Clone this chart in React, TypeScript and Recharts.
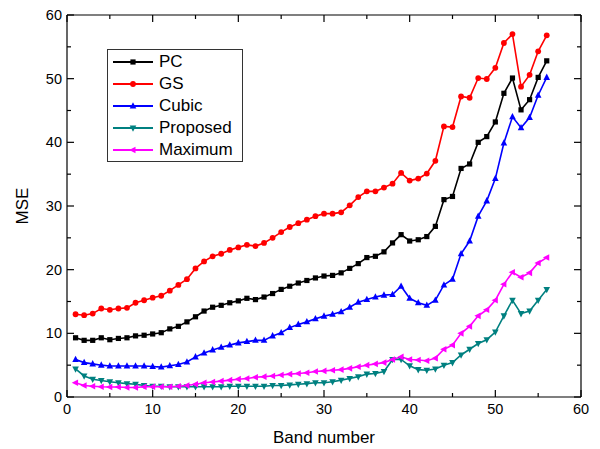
import React from 'react';
import { LineChart, Line, XAxis, YAxis } from 'recharts';

// band index 1..56
const bands = [
  1, 2, 3, 4, 5, 6, 7, 8, 9, 10, 11, 12, 13, 14, 15, 16, 17, 18, 19, 20,
  21, 22, 23, 24, 25, 26, 27, 28, 29, 30, 31, 32, 33, 34, 35, 36, 37, 38, 39, 40,
  41, 42, 43, 44, 45, 46, 47, 48, 49, 50, 51, 52, 53, 54, 55, 56,
];

const pcValues = [
  9.3, 8.9, 8.9, 9.3, 9.0, 9.2, 9.3, 9.6, 9.7, 9.9, 10.1, 10.7, 11.1, 11.8, 12.6, 13.5, 14.1, 14.4, 14.8, 15.1,
  15.5, 15.3, 15.7, 16.25, 16.9, 17.4, 17.9, 18.3, 18.7, 19.0, 19.1, 19.5, 20.2, 20.95, 21.9, 22.1, 22.8, 24.2, 25.5, 24.5,
  24.7, 25.2, 26.8, 31.0, 31.5, 35.9, 36.6, 40.0, 40.9, 43.2, 47.7, 50.1, 45.1, 46.7, 50.2, 52.8,
];

const gsValues = [
  13.0, 12.85, 13.1, 13.9, 13.7, 13.9, 14.0, 14.8, 15.2, 15.6, 15.9, 16.7, 17.6, 18.5, 20.2, 21.3, 22.1, 22.5, 23.1, 23.5,
  23.9, 23.7, 24.2, 25.0, 25.9, 26.7, 27.3, 27.85, 28.4, 28.8, 28.8, 29.0, 30.1, 31.4, 32.3, 32.3, 32.9, 33.5, 35.2, 34.0,
  34.3, 35.1, 37.1, 42.5, 42.4, 47.2, 47.0, 50.1, 49.95, 51.7, 55.6, 57.0, 48.75, 50.6, 54.3, 56.8,
];

const cubicValues = [
  5.9, 5.4, 5.2, 5.0, 4.86, 4.86, 4.86, 4.86, 4.86, 4.8, 4.7, 4.9, 5.1, 5.5, 6.3, 6.9, 7.4, 7.8, 8.15, 8.5,
  8.7, 8.9, 8.9, 9.6, 10.1, 10.9, 11.4, 11.8, 12.3, 12.7, 13.0, 13.4, 14.1, 14.9, 15.3, 15.7, 16.0, 16.1, 17.4, 15.5,
  14.8, 14.4, 15.2, 17.6, 18.5, 22.5, 24.5, 28.4, 30.8, 34.3, 39.9, 44.0, 42.3, 43.9, 47.4, 50.2,
];

const proposedValues = [
  4.4, 3.3, 2.8, 2.6, 2.4, 2.25, 2.1, 2.0, 1.8, 1.7, 1.7, 1.6, 1.6, 1.6, 1.6, 1.6, 1.6, 1.6, 1.7, 1.7,
  1.7, 1.7, 1.7, 1.8, 1.8, 1.9, 2.0, 2.1, 2.25, 2.25, 2.4, 2.65, 2.9, 3.2, 3.6, 3.7, 4.0, 5.9, 5.9, 4.9,
  4.3, 4.2, 4.4, 5.0, 5.4, 6.6, 7.5, 8.4, 9.0, 10.2, 12.75, 15.2, 13.1, 13.5, 15.2, 16.9,
];

const maximumValues = [
  2.25, 1.8, 1.7, 1.6, 1.57, 1.57, 1.5, 1.5, 1.6, 1.6, 1.6, 1.6, 1.7, 1.8, 2.0, 2.25, 2.35, 2.5, 2.65, 2.8,
  2.9, 3.1, 3.2, 3.3, 3.45, 3.6, 3.7, 3.8, 4.0, 4.1, 4.2, 4.3, 4.5, 4.75, 5.0, 5.2, 5.4, 5.9, 6.3, 5.9,
  5.8, 5.7, 6.1, 7.5, 8.15, 10.0, 11.1, 12.75, 13.7, 15.2, 17.7, 19.6, 18.8, 19.5, 21.05, 21.9,
];

const axisTicks = [0, 5, 10, 15, 20, 25, 30, 35, 40, 45, 50, 55, 60];

const series = [
  { key: 'pc', name: 'PC', color: '#000000', shape: 'square' },
  { key: 'gs', name: 'GS', color: '#ff0000', shape: 'circle' },
  { key: 'cubic', name: 'Cubic', color: '#0000ff', shape: 'up' },
  { key: 'proposed', name: 'Proposed', color: '#008080', shape: 'down' },
  { key: 'maximum', name: 'Maximum', color: '#ff00ff', shape: 'left' },
];

const data = bands.map((b, i) => ({
  band: b,
  pc: pcValues[i],
  gs: gsValues[i],
  cubic: cubicValues[i],
  proposed: proposedValues[i],
  maximum: maximumValues[i],
}));

const FONT = '"Liberation Sans", Arial, sans-serif';

const Marker = ({ cx, cy, shape, color }: { cx: number; cy: number; shape: string; color: string }) => {
  if (cx == null || cy == null) return null;
  switch (shape) {
    case 'square':
      return <rect x={cx - 2.6} y={cy - 2.6} width={5.2} height={5.2} fill={color} />;
    case 'circle':
      return <circle cx={cx} cy={cy} r={2.9} fill={color} />;
    case 'up':
      return <polygon points={`${cx},${cy - 3.8} ${cx - 3.3},${cy + 2.5} ${cx + 3.3},${cy + 2.5}`} fill={color} />;
    case 'down':
      return <polygon points={`${cx},${cy + 3.8} ${cx - 3.3},${cy - 2.5} ${cx + 3.3},${cy - 2.5}`} fill={color} />;
    default:
      return <polygon points={`${cx - 3.8},${cy} ${cx + 2.5},${cy - 3.3} ${cx + 2.5},${cy + 3.3}`} fill={color} />;
  }
};

const tickLen = (v: number) => (v % 10 === 0 ? 7 : 4);

const BottomTick = (props: any) => {
  const { x, y, payload } = props;
  const v = payload.value;
  return (
    <g>
      <line x1={x} x2={x} y1={y} y2={y - tickLen(v)} stroke="#000" strokeWidth={1.2} />
      {v % 10 === 0 && (
        <text x={x} y={y + 17} textAnchor="middle" fontSize={14.5} fontFamily={FONT} fill="#000">
          {v}
        </text>
      )}
    </g>
  );
};

const LeftTick = (props: any) => {
  const { x, y, payload } = props;
  const v = payload.value;
  return (
    <g>
      <line x1={x} x2={x + tickLen(v)} y1={y} y2={y} stroke="#000" strokeWidth={1.2} />
      {v % 10 === 0 && (
        <text x={x - 5} y={y + 5} textAnchor="end" fontSize={14.5} fontFamily={FONT} fill="#000">
          {v}
        </text>
      )}
    </g>
  );
};

const TopTick = (props: any) => {
  const { x, y, payload } = props;
  return <line x1={x} x2={x} y1={y} y2={y + tickLen(payload.value)} stroke="#000" strokeWidth={1.2} />;
};

const RightTick = (props: any) => {
  const { x, y, payload } = props;
  return <line x1={x} x2={x - tickLen(payload.value)} y1={y} y2={y} stroke="#000" strokeWidth={1.2} />;
};

const LegendBox = () => (
  <div
    style={{
      position: 'absolute',
      left: 107,
      top: 49,
      width: 134,
      height: 110,
      border: '1px solid #333',
      background: '#fff',
      paddingTop: 1,
      boxSizing: 'content-box',
    }}
  >
    {series.map((s) => (
      <div key={s.key} style={{ display: 'flex', alignItems: 'center', height: 22 }}>
        <svg width={46} height={22} style={{ display: 'block' }}>
          <line x1={5} x2={45} y1={11} y2={11} stroke={s.color} strokeWidth={2} />
          <Marker cx={25} cy={11} shape={s.shape} color={s.color} />
        </svg>
        <span style={{ marginLeft: 5, fontFamily: FONT, fontSize: 17, color: '#000', lineHeight: '22px' }}>
          {s.name}
        </span>
      </div>
    ))}
  </div>
);

export default function App() {
  return (
    <div style={{ position: 'absolute', left: 0, top: 0, width: 600, height: 449, background: '#fff' }}>
      <LineChart width={600} height={449} data={data} margin={{ top: 0, right: 0, bottom: 0, left: 0 }}>
        <XAxis
          dataKey="band"
          type="number"
          domain={[0, 60]}
          ticks={axisTicks}
          interval={0}
          height={52}
          tickSize={0}
          tickMargin={0}
          tickLine={false}
          tick={<BottomTick />}
          axisLine={{ stroke: '#000', strokeWidth: 1.2 }}
          label={{ value: 'Band number', position: 'insideBottom', offset: 6, fontSize: 17, fontFamily: FONT, fill: '#000' }}
        />
        <XAxis
          xAxisId="top"
          orientation="top"
          dataKey="band"
          type="number"
          domain={[0, 60]}
          allowDataOverflow
          ticks={axisTicks}
          interval={0}
          height={15}
          tickSize={0}
          tickMargin={0}
          tickLine={false}
          tick={<TopTick />}
          axisLine={{ stroke: '#000', strokeWidth: 1.2 }}
        />
        <YAxis
          type="number"
          domain={[0, 60]}
          ticks={axisTicks}
          interval={0}
          width={67}
          tickSize={0}
          tickMargin={0}
          tickLine={false}
          tick={<LeftTick />}
          axisLine={{ stroke: '#000', strokeWidth: 1.2 }}
          label={{ value: 'MSE', angle: -90, position: 'insideLeft', offset: 22, fontSize: 17, fontFamily: FONT, fill: '#000', style: { textAnchor: 'middle' } }}
        />
        <YAxis
          yAxisId="right"
          orientation="right"
          type="number"
          domain={[0, 60]}
          allowDataOverflow
          ticks={axisTicks}
          interval={0}
          width={19}
          tickSize={0}
          tickMargin={0}
          tickLine={false}
          tick={<RightTick />}
          axisLine={{ stroke: '#000', strokeWidth: 1.2 }}
        />
        {series.map((s) => (
          <Line
            key={s.key}
            dataKey={s.key}
            name={s.name}
            type="linear"
            stroke={s.color}
            strokeWidth={1.6}
            isAnimationActive={false}
            activeDot={false}
            dot={(p: any) => <Marker key={`${s.key}-${p.index}`} cx={p.cx} cy={p.cy} shape={s.shape} color={s.color} />}
          />
        ))}
      </LineChart>
      <LegendBox />
    </div>
  );
}
